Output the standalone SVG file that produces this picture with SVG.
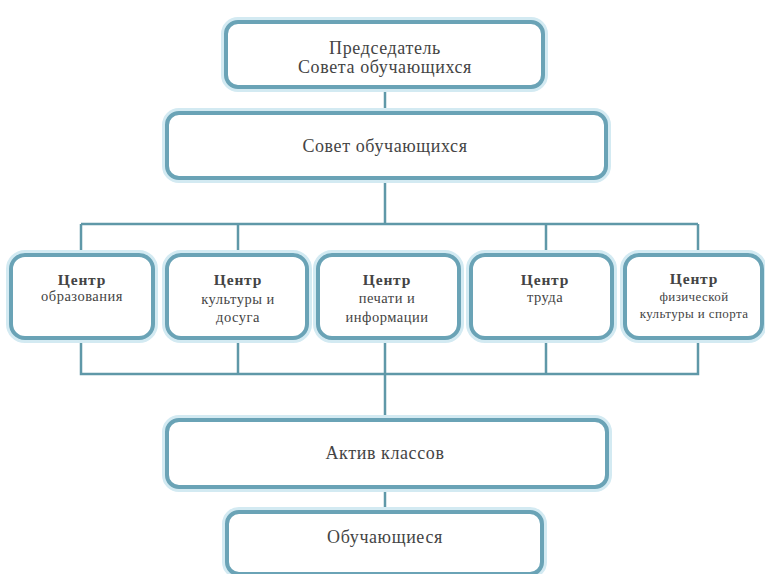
<svg xmlns="http://www.w3.org/2000/svg" width="765" height="574" viewBox="0 0 765 574">
<defs>
<style>
.glow{fill:none;stroke:#d3eaf2;stroke-width:10}
.box{fill:#ffffff;stroke:#6aa3b6;stroke-width:4}
.ln{fill:none;stroke:#5f98a8;stroke-width:2.5}
text{font-family:"Liberation Serif","Times New Roman",serif;fill:#444444;text-anchor:middle}
.t{font-size:18px;letter-spacing:0.6px}
.b{font-size:15.5px;font-weight:bold;letter-spacing:0.8px}
.s{font-size:14.5px;letter-spacing:0.5px}
.xs{font-size:13px;letter-spacing:0.4px}
</style>
</defs>
<rect width="765" height="574" fill="#ffffff"/>
<g id="connectors">
<path class="ln" d="M385 87V113M385 178V224M81 224H698M81 224V255M238 224V255M546 224V255M698 224V255M81 338V374H698V338M238 338V374M546 338V374M385 338V420M385 487V512"/>
</g>
<g id="chair">
<rect class="glow" x="226" y="22" width="317" height="65" rx="12"/>
<rect class="box" x="226" y="22" width="317" height="65" rx="12"/>
<text class="t" x="385" y="54">Председатель</text>
<text class="t" x="385" y="73">Совета обучающихся</text>
</g>
<g id="council">
<rect class="glow" x="167" y="113" width="439" height="65" rx="12"/>
<rect class="box" x="167" y="113" width="439" height="65" rx="12"/>
<text class="t" x="385" y="152">Совет обучающихся</text>
</g>
<g id="c1">
<rect class="glow" x="11" y="255" width="142" height="83" rx="14"/>
<rect class="box" x="11" y="255" width="142" height="83" rx="14"/>
<text class="b" x="82" y="285">Центр</text>
<text class="s" x="82" y="301">образования</text>
</g>
<g id="c2">
<rect class="glow" x="167" y="255" width="140" height="83" rx="14"/>
<rect class="box" x="167" y="255" width="140" height="83" rx="14"/>
<text class="b" x="238" y="285">Центр</text>
<text class="s" x="238" y="304">культуры и</text>
<text class="s" x="238" y="322">досуга</text>
</g>
<g id="c3">
<rect class="glow" x="318" y="255" width="141" height="83" rx="14"/>
<rect class="box" x="318" y="255" width="141" height="83" rx="14"/>
<text class="b" x="387" y="285">Центр</text>
<text class="s" x="387" y="303">печати и</text>
<text class="s" x="387" y="322">информации</text>
</g>
<g id="c4">
<rect class="glow" x="471" y="255" width="141" height="83" rx="14"/>
<rect class="box" x="471" y="255" width="141" height="83" rx="14"/>
<text class="b" x="545" y="285">Центр</text>
<text class="s" x="545" y="302">труда</text>
</g>
<g id="c5">
<rect class="glow" x="625" y="255" width="137" height="83" rx="14"/>
<rect class="box" x="625" y="255" width="137" height="83" rx="14"/>
<text class="b" x="694" y="284">Центр</text>
<text class="xs" x="694" y="301">физической</text>
<text class="xs" x="694" y="318">культуры и спорта</text>
</g>
<g id="activ">
<rect class="glow" x="167" y="420" width="440" height="67" rx="12"/>
<rect class="box" x="167" y="420" width="440" height="67" rx="12"/>
<text class="t" x="385" y="459">Актив классов</text>
</g>
<g id="students">
<rect class="glow" x="227" y="512" width="315" height="62" rx="12"/>
<rect class="box" x="227" y="512" width="315" height="62" rx="12"/>
<text class="t" x="385" y="543">Обучающиеся</text>
</g>
</svg>
